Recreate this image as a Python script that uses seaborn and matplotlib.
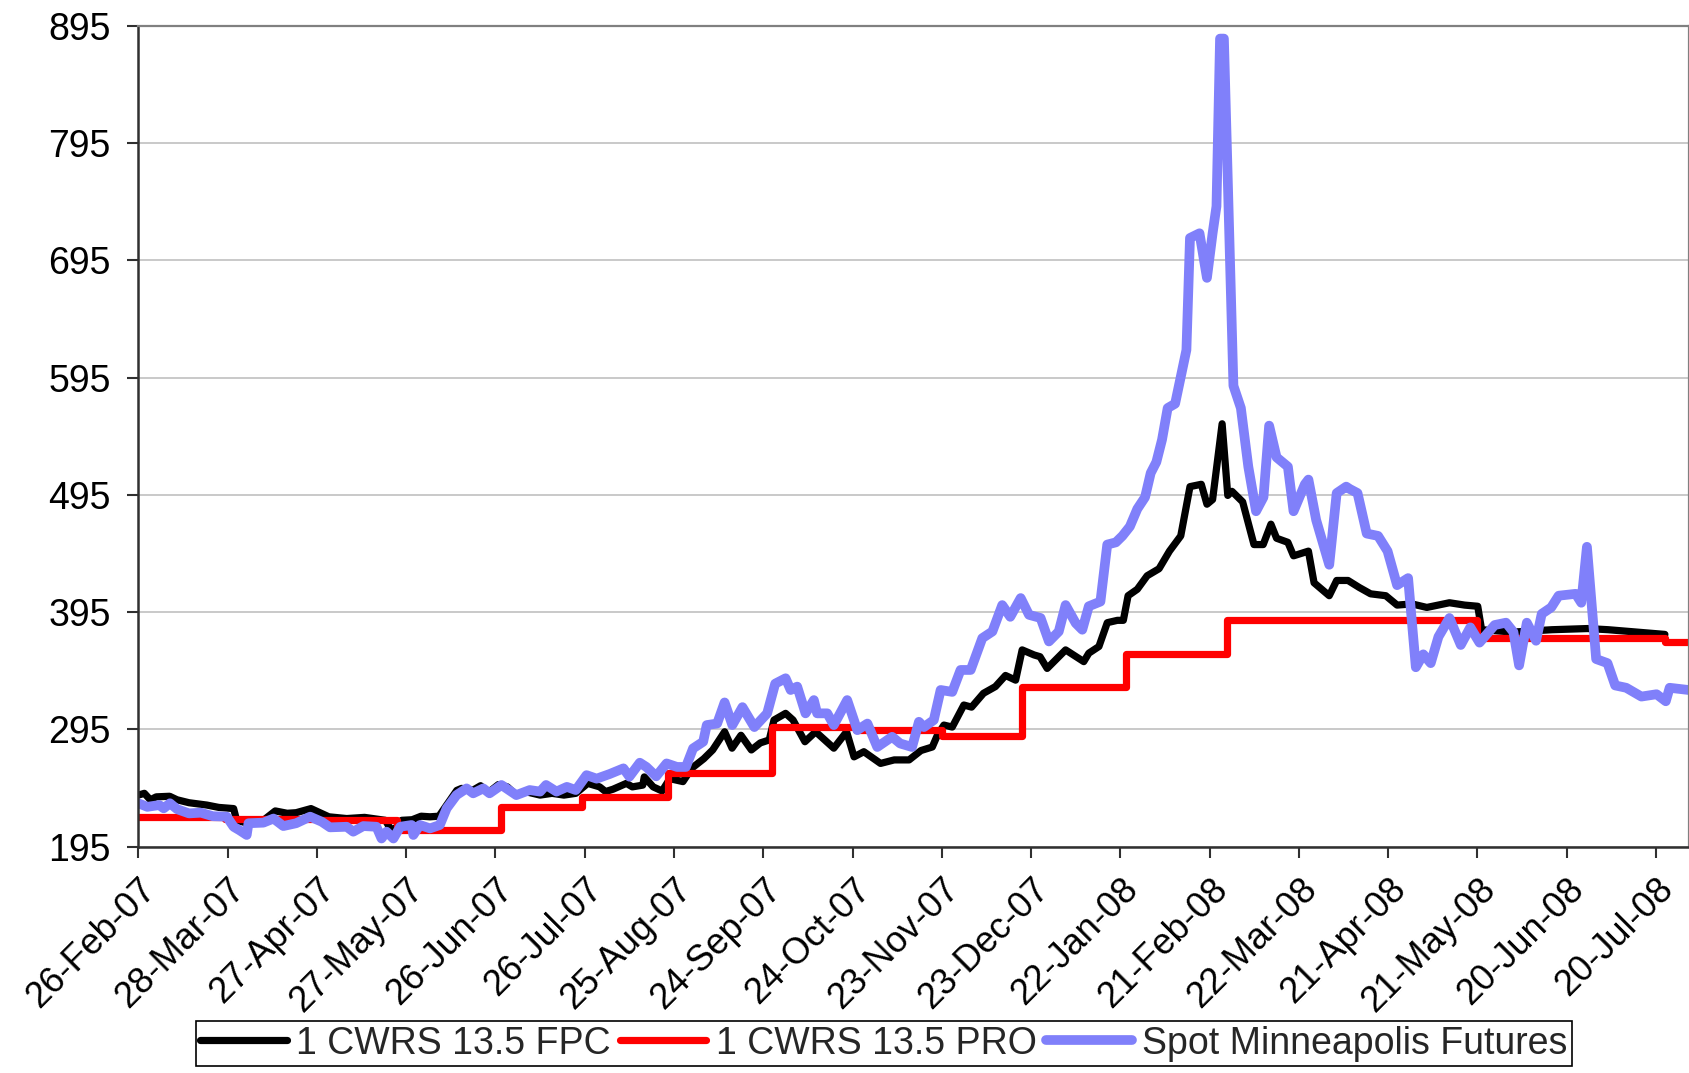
import matplotlib
matplotlib.use("Agg")
import matplotlib.pyplot as plt
import seaborn as sns
import pandas as pd

# ---------------- data ----------------
START = "2007-02-26"
END_DAY = 521

fpc_days = [0, 2, 4, 6, 10.5, 13, 17, 23, 27, 32, 33, 36, 42, 46, 50, 53, 58, 64, 70, 76,
            83, 85, 87, 88.5, 92, 95, 98, 101, 104, 107, 108.6, 112.5, 115, 117.5, 121, 124,
            127, 130, 135, 139, 143, 147, 151, 155, 157, 159.5, 164, 166, 169.5, 170, 173,
            176, 178.6, 183, 186, 190, 193, 197, 199.5, 202.5, 206, 209, 212, 213.6, 217.5,
            220, 224, 227.6, 233.7, 238, 240.5, 243.8, 249.4, 254, 259, 263, 266.8, 268.5,
            270.7, 273.5, 277.4, 280, 284, 288, 291.4, 294.8, 297, 301, 303, 305.4, 311.6,
            317.7, 319.4, 322.8, 325.6, 329, 331, 332.6, 335.7, 339, 343, 346.5, 350.3,
            353.4, 357.2, 359.1, 361, 364.2, 366.1, 367.5, 371.1, 374.9, 378, 380.6, 382.5,
            386.3, 388.2, 393.2, 395.1, 400.2, 402.7, 406.5, 410.3, 414.1, 419.2, 423, 428,
            433, 440.6, 445.7, 450.1, 451.4, 462, 475, 487, 494, 513]
fpc_values = [239, 240.5, 235, 237.5, 238, 235, 232.5, 230.5, 228.5, 227.5, 217.5, 215.5,
              217.5, 225.5, 223.5, 224, 227.5, 220.5, 219, 220, 217.5, 209, 212, 217.5, 218,
              221, 220.5, 221, 232, 243, 244.7, 243.3, 247, 241, 248, 246, 239, 242, 239,
              240.5, 239, 240.5, 249, 246, 242, 244, 249, 246, 247.5, 254.5, 246, 242.5, 253,
              250.5, 262, 270, 277.5, 293, 279, 290, 277.5, 283.5, 286, 303, 308.7, 303,
              284.5, 293, 279, 293, 271.6, 276, 266, 269, 269, 277, 280, 290, 298.7, 297,
              315.8, 314, 325.8, 331.5, 341, 337, 362.8, 358.5, 357, 347, 362.8, 352.8, 360,
              365.7, 386, 388, 388, 409, 414.5, 426, 432, 447, 460, 502, 504, 487, 491, 555.6,
              494.5, 498, 489, 452.6, 452.6, 470, 458, 454.5, 443, 447, 420, 409, 422, 422,
              416, 410.6, 409, 401, 402, 399, 403, 401, 400, 380, 378, 380, 381, 380, 376]

pro_days = [0, 29, 60, 87, 122, 149, 178, 213, 241, 270, 297, 332, 366, 450, 513, 521]
pro_values = [220, 219, 218, 209.5, 229, 237.5, 258, 297, 294.5, 289, 331, 359, 388, 373,
              369.5, 369.5]

spot_days = [0, 3, 7, 8.5, 10.6, 13, 17, 21, 25, 29.7, 32, 34, 36.4, 37, 42, 45.4, 48.7, 53,
             57.7, 61.6, 64.4, 70, 72.2, 75.6, 80, 81.7, 83.4, 85.7, 88, 91.8, 92.4, 94.6, 98,
             101.3, 103.6, 106.9, 110.3, 112.5, 115.9, 118, 122, 127, 131.5, 135, 137, 140.5,
             144, 147, 150.6, 154, 158.4, 163, 165, 168.5, 170.7, 174, 177.5, 181, 184, 186.4,
             189.8, 191, 194.5, 197, 199.6, 203, 207, 211.3, 214, 217.5, 219.2, 221.4, 224.2,
             227, 228.1, 231.5, 233.7, 238.2, 241.6, 245, 248.3, 253.3, 256, 260, 262.3, 264,
             267.3, 269.6, 273.5, 276.3, 279.7, 283.6, 287, 290.3, 293, 296.5, 299.3, 303.2,
             306, 309.3, 311.6, 315, 317.2, 319.4, 323.3, 325.6, 328.5, 330.7, 333.2, 335.7,
             338.3, 340.2, 342.1, 344, 345.9, 348.4, 350.3, 352.2, 353.4, 356.6, 359.1, 361,
             362.3, 363.5, 364.8, 368, 370.5, 373, 375.6, 378.1, 380, 382.5, 386.3, 388.2, 392,
             393.2, 395.8, 400.2, 402.7, 405.9, 407.1, 409.7, 412.8, 416.6, 419.8, 423, 426.7,
             429.3, 431.8, 434.3, 436.9, 440.6, 444.4, 447.6, 450.7, 455.8, 459.6, 462.1, 464,
             466.6, 469.7, 471.6, 474.8, 477.3, 483, 484.9, 486.8, 489.9, 493.7, 496.3, 500,
             505.1, 510.2, 513.3, 514.6, 521]
spot_values = [232, 229, 230.5, 227.7, 232, 227, 223.4, 224, 221, 220.6, 212, 209, 205, 215,
               215.5, 219, 212.6, 215, 220.6, 216.3, 211.5, 212, 207.8, 212.6, 212, 202, 207.8,
               202, 212, 213.5, 205, 213.5, 210.6, 213.5, 227.7, 239, 244.7, 240.5, 244.7,
               240.5, 247.6, 239, 243.3, 242, 247.6, 242, 246, 243.3, 256, 253, 257, 261.8,
               254.7, 266.6, 263, 255, 266, 263, 263, 278.8, 284.5, 298.7, 300, 318, 298.7, 314,
               297, 308.7, 334, 338.6, 328.6, 331.5, 308.7, 320, 308.7, 308.7, 298.7, 320,
               294.4, 300, 280, 288.7, 283, 280, 301.5, 297, 303, 328.6, 327, 345.7, 345.7,
               372.8, 378.5, 401, 391, 407, 392.7, 390, 370, 378.5, 401, 385.6, 380, 400, 404,
               452.6, 454.5, 460, 468, 483, 493, 513.6, 523, 542, 569, 572.7, 595.6, 618.5,
               714, 718, 680, 718, 741, 884, 884, 588, 569, 519, 481, 493, 554, 527, 519, 481,
               504, 508, 473.6, 435.4, 496.5, 502, 500, 496.5, 462, 460, 447, 418, 424, 348,
               359, 351.5, 374, 390, 367, 382, 369, 384, 386, 378, 349.6, 386, 370.6, 393.5,
               399, 409, 410.6, 403, 450.7, 355, 351.5, 332.5, 330.5, 323, 325, 319, 330.5,
               328.6]

series_names = ["1 CWRS 13.5 FPC", "1 CWRS 13.5 PRO", "Spot Minneapolis Futures"]

tick_labels = ["26-Feb-07", "28-Mar-07", "27-Apr-07", "27-May-07", "26-Jun-07", "26-Jul-07",
               "25-Aug-07", "24-Sep-07", "24-Oct-07", "23-Nov-07", "23-Dec-07", "22-Jan-08",
               "21-Feb-08", "22-Mar-08", "21-Apr-08", "21-May-08", "20-Jun-08", "20-Jul-08"]
y_ticks = [195, 295, 395, 495, 595, 695, 795, 895]

# ---------------- plotting ----------------
sns.set_style("white")
plt.rcParams["font.family"] = ["Liberation Sans", "DejaVu Sans"]

start = pd.Timestamp(START)


def to_dates(days):
    return start + pd.to_timedelta(days, unit="D")


df_fpc = pd.DataFrame({"date": to_dates(fpc_days), "value": fpc_values})
df_pro = pd.DataFrame({"date": to_dates(pro_days), "value": pro_values})
df_spot = pd.DataFrame({"date": to_dates(spot_days), "value": spot_values})

fig = plt.figure(figsize=(16.9, 10.73), dpi=100)
ax = fig.add_axes([138.4 / 1690, 1 - 846.7 / 1073, (1688.7 - 138.4) / 1690, (846.7 - 25.7) / 1073])

sns.lineplot(data=df_fpc, x="date", y="value", ax=ax, color="black", linewidth=5.2,
             label=series_names[0], estimator=None)
sns.lineplot(data=df_pro, x="date", y="value", ax=ax, color="#ff0000", linewidth=5.2,
             label=series_names[1], drawstyle="steps-post", estimator=None)
sns.lineplot(data=df_spot, x="date", y="value", ax=ax, color="#8080fa", linewidth=7.0,
             label=series_names[2], estimator=None)

ax.set_xlim(start, to_dates(END_DAY))
ax.set_ylim(195, 895)
ax.set_yticks(y_ticks)
ax.set_yticklabels([str(v) for v in y_ticks])
tick_pos = pd.to_datetime(tick_labels, format="%d-%b-%y")
ax.set_xticks(tick_pos)
ax.set_xticklabels(tick_labels, rotation=45, ha="right", va="top", rotation_mode="anchor")
ax.set_xlabel("")
ax.set_ylabel("")

ax.grid(axis="y", color="#c0c0c0", linewidth=1.2)
ax.grid(axis="x", visible=False)
ax.set_axisbelow(True)

for side in ["top", "right"]:
    ax.spines[side].set_color("#808080")
    ax.spines[side].set_linewidth(1.6)
for side in ["left", "bottom"]:
    ax.spines[side].set_color("#303030")
    ax.spines[side].set_linewidth(1.8)

ax.tick_params(axis="both", direction="out", length=8, width=1.5, color="#303030",
               labelcolor="black")
ax.tick_params(axis="y", pad=12, labelsize=27)
ax.tick_params(axis="x", pad=10, labelsize=26)
ax.tick_params(bottom=True, left=True)

handles, labels = ax.get_legend_handles_labels()
ax.get_legend().remove()
leg = fig.legend(handles, labels, loc="upper left",
                 bbox_to_anchor=(196 / 1690, 1 - 1021 / 1073), ncol=3, fontsize=27,
                 frameon=True, fancybox=False, edgecolor="black", framealpha=1,
                 borderpad=0.12, handlelength=2.3, handletextpad=0.25, columnspacing=0.25,
                 borderaxespad=0)
leg.get_frame().set_linewidth(1.2)

fig.savefig("out.png", dpi=100)
